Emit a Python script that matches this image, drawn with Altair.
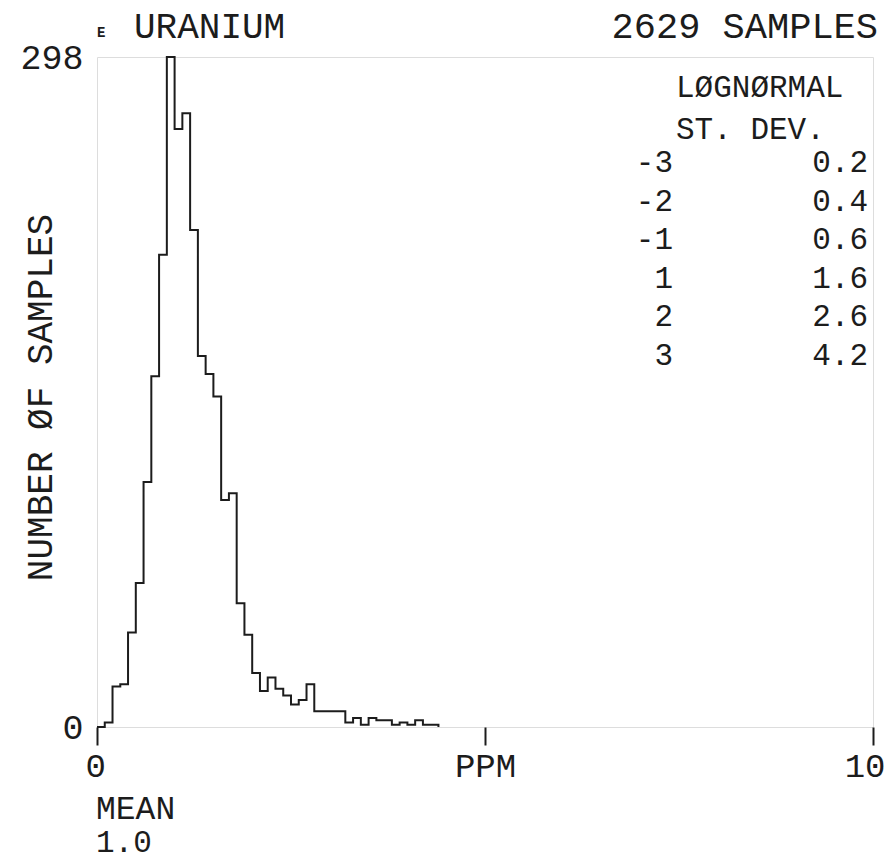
import altair as alt
import pandas as pd

# ---- data ----
bin_start = [0.0, 0.1, 0.2, 0.3, 0.4, 0.5, 0.6, 0.7, 0.8, 0.9,
             1.0, 1.1, 1.2, 1.3, 1.4, 1.5, 1.6, 1.7, 1.8, 1.9,
             2.0, 2.1, 2.2, 2.3, 2.4, 2.5, 2.6, 2.7, 2.8, 2.9,
             3.0, 3.1, 3.2, 3.3, 3.4, 3.5, 3.6, 3.7, 3.8, 3.9,
             4.0, 4.1, 4.2, 4.3, 4.4]
counts = [0, 2, 18, 19, 42, 64, 109, 156, 210, 298,
          266, 273, 221, 165, 157, 147, 101, 104, 55, 41,
          24, 16, 22, 17, 14, 10, 12, 19, 7, 7,
          7, 7, 2, 4, 1, 4, 3, 3, 1, 2,
          1, 3, 1, 1, 0]
x_ticks = [0, 5, 10]
x_tick_labels = ["0", "PPM", "10"]
y_ticks = [0, 298]
title_small = "E"
title_left = "URANIUM"
title_right = "2629 SAMPLES"
y_title = "NUMBER ØF SAMPLES"
legend_head = ["LØGNØRMAL", "ST. DEV."]
sd_levels = ["-3", "-2", "-1", "1", "2", "3"]
sd_ppm = ["0.2", "0.4", "0.6", "1.6", "2.6", "4.2"]
mean_text = ["MEAN", "1.0"]

# ---- styling ----
W, H = 776, 670
FONT = "Liberation Mono"
INK = "#1c1c1c"

hist = pd.DataFrame({"ppm": bin_start, "n": counts})

label_expr = "".join(
    f"datum.value == {v} ? '{l}' : " for v, l in zip(x_ticks, x_tick_labels)
) + "datum.label"

line = alt.Chart(hist).mark_line(
    interpolate="step-after", color=INK, strokeWidth=2
).encode(
    x=alt.X("ppm:Q",
            scale=alt.Scale(domain=[0, 10], nice=False, zero=False),
            axis=alt.Axis(values=x_ticks, labelExpr=label_expr, title=None,
                          domain=False, grid=False, ticks=True, tickSize=18,
                          tickWidth=2, tickColor=INK, labelFont=FONT,
                          labelFontSize=34, labelPadding=4, labelColor=INK,
                          labelFlush=True, labelFlushOffset=12)),
    y=alt.Y("n:Q",
            scale=alt.Scale(domain=[0, 298], nice=False),
            axis=alt.Axis(values=y_ticks, ticks=False, domain=False, grid=False,
                          labelFont=FONT, labelFontSize=35, labelPadding=14,
                          labelColor=INK, labelFlush=False,
                          title=y_title, titleFont=FONT, titleFontSize=36,
                          titleFontWeight="normal", titleColor=INK,
                          titleX=-57, titleY=340, titleAngle=270,
                          titleAlign="center", titleBaseline="middle")),
)


def label(text, x, y, size, align="left", weight="normal"):
    return alt.Chart(pd.DataFrame({"t": [text]})).mark_text(
        align=align, baseline="middle", font=FONT, fontSize=size,
        fontWeight=weight, color=INK
    ).encode(x=alt.value(x), y=alt.value(y), text="t:N")


layers = [line,
          label(title_small, 0, -24, 14, weight="bold"),
          label(title_left, 37, -30, 36),
          label(title_right, 781, -30, 37, align="right"),
          label(legend_head[0], 579, 31, 31),
          label(legend_head[1], 579, 73, 31)]
for i, (lev, val) in enumerate(zip(sd_levels, sd_ppm)):
    yy = 106 + i * 38.6
    layers.append(label(lev, 576, yy, 31, align="right"))
    layers.append(label(val, 771, yy, 31, align="right"))
layers.append(label(mean_text[0], -1, 752, 33))
layers.append(label(mean_text[1], -1, 786, 31))

chart = alt.layer(*layers).properties(
    width=W, height=H,
    autosize=alt.AutoSizeParams(type="none"),
    padding={"left": 89, "top": 49, "right": 12, "bottom": 133},
).configure_view(stroke=INK, strokeWidth=2).configure(background="white")

chart.save("out.html", embed_options={"renderer": "svg", "actions": False})
